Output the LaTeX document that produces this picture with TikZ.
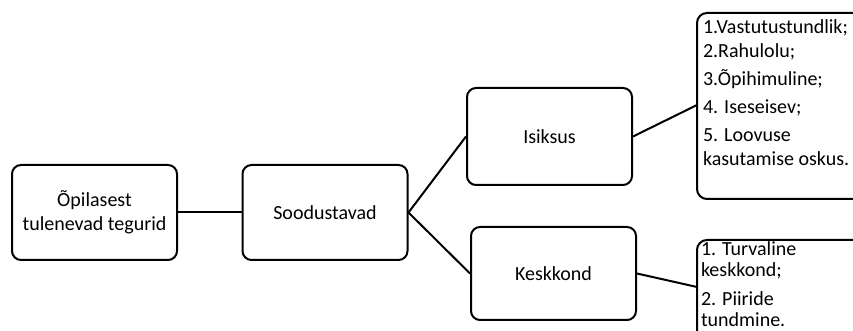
\documentclass[tikz,border=0pt]{standalone}
\usepackage{fontspec}
\setmainfont{Carlito}
\begin{document}
\begin{tikzpicture}[x=1pt,y=1pt,line width=2pt,
  box/.style={draw,rounded corners=9pt,minimum width=165pt,minimum height=95pt,align=center,font=\fontsize{20}{24}\selectfont},
  list/.style={inner sep=0pt,anchor=north west,align=left}]
\useasboundingbox (0,0) rectangle (853,331);
\draw(94.5,118.5) node[box] (opil) {Õpilasest\\tulenevad tegurid};
\draw(325,118.5) node[box] (sood) {Soodustavad};
\draw(549.5,194.5) node[box,minimum height=97pt] (isik) {Isiksus};
\draw(553.5,57.5) node[box,minimum height=93pt] (kesk) {Keskkond};
% sulud paremal
\draw[rounded corners=10pt] (853,318) -- (697,318) -- (697,132) -- (853,132);
\draw[rounded corners=10pt] (853,91) -- (697,91) -- (697,-10);
\coordinate (isikOts) at (697,226);
\coordinate (keskOts) at (697,44);
\draw(702,312) node[list,font=\fontsize{20}{24}\selectfont] (isikList)
  {1.Vastutustundlik;\\2.Rahulolu;\\[4pt]3.Õpihimuline;\\[4pt]4. Iseseisev;\\[4pt]5. Loovuse\\kasutamise oskus.};
\draw(700,90) node[list,font=\fontsize{20}{21}\selectfont] (keskList)
  {1. Turvaline\\keskkond;\\[8pt]2. Piiride\\tundmine.};
\draw (opil) -- (sood);
\foreach \x in {isik,kesk} \draw (sood.east) -- (\x.west);
\draw (isik.east) -- (isikOts);
\draw (kesk.east) -- (keskOts);
\end{tikzpicture}
\end{document}
